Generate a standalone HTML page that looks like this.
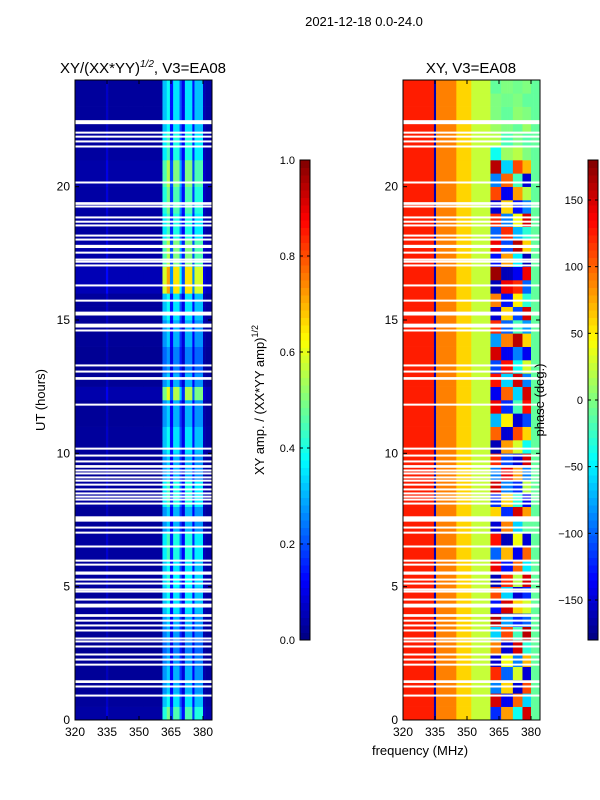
<!DOCTYPE html>
<html><head><meta charset="utf-8"><style>
body{margin:0;background:#fff;}
svg{display:block;font-family:"Liberation Sans",sans-serif;}
</style></head><body>
<svg id="s" width="600" height="800" xmlns="http://www.w3.org/2000/svg">
<text x="364" y="26" font-size="13" text-anchor="middle">2021-12-18 0.0-24.0</text>
<text x="143" y="73" font-size="15" text-anchor="middle">XY/(XX*YY)<tspan dy="-6" font-size="10" font-style="italic">1/2</tspan><tspan dy="6">, V3=EA08</tspan></text>
<text x="471" y="73" font-size="15" text-anchor="middle">XY, V3=EA08</text>
<g id="left"></g>
<g id="right"></g>
<g id="axes"></g>
<text transform="translate(45,400) rotate(-90)" font-size="13" text-anchor="middle">UT (hours)</text>
<text x="420" y="755" font-size="13" text-anchor="middle">frequency (MHz)</text>
<text transform="translate(264,400) rotate(-90)" font-size="13" text-anchor="middle">XY amp. / (XX*YY amp)<tspan dy="-6" font-size="9">1/2</tspan></text>
<text transform="translate(544,400) rotate(-90)" font-size="13" text-anchor="middle">phase (deg.)</text>
</svg>
<script>
const gapHours=[22.40,22.01,21.86,21.68,21.49,20.14,19.35,19.24,18.83,18.67,18.53,18.15,18.0,17.74,17.51,17.25,17.17,17.03,16.28,15.71,15.26,15.19,14.81,14.74,14.59,13.28,13.05,12.79,11.81,10.16,9.90,9.68,9.49,9.34,9.23,9.08,8.96,8.81,8.63,8.48,8.36,8.25,8.10,7.52,7.2,7.01,6.49,5.96,5.81,5.49,5.25,5.1,4.88,4.8,4.5,4.31,4.24,3.9,3.71,3.53,3.34,3.04,2.93,2.74,2.44,2.25,2.06,1.42,1.24,0.9];
const gapWidths=[0.15,0.07,0.07,0.07,0.07,0.07,0.1,0.07,0.07,0.07,0.07,0.07,0.07,0.12,0.07,0.07,0.07,0.07,0.07,0.07,0.07,0.07,0.07,0.07,0.07,0.07,0.07,0.1,0.07,0.07,0.07,0.07,0.1,0.07,0.07,0.07,0.07,0.07,0.07,0.07,0.07,0.07,0.07,0.2,0.07,0.07,0.07,0.07,0.07,0.12,0.07,0.07,0.07,0.07,0.07,0.07,0.07,0.1,0.07,0.07,0.07,0.07,0.07,0.07,0.07,0.07,0.07,0.1,0.07,0.07];
const freqEdges=[320,334.5,335.5,345,352,361,363,364.5,366,369,370,371.5,375,376,380,381,384.2];
const colAmp=[0.04,0.1,0.04,0.04,0.04,0.45,0.55,0.2,0.5,0.3,0.15,0.5,0.2,0.45,0.08,0.05];
const colPhase=[125,-160,90,60,25,null,null,null,null,null,null,null,null,null,-10,-10];
const colPhaseGroup=[0,0,0,0,0,1,1,1,2,2,2,3,3,4,0,0];
const rowAmp=[0.9,0.7,0.6,0.6,0.55,0.5,0.55,0.6,0.7,0.7,0.75,0.7,0.8,0.8,0.6,0.6,0.8,0.8,0.6,0.6,0.7,0.7,0.6,0.6,1.1,0.6,0.5,0.5,0.6,0.6,0.7,0.7,1.3,1.3,1.0,1.0,0.8,0.8,0.9,0.9,1.0,1.0,0.8,0.8,0.7,0.7,0.7,0.7];
const phaseA=[-120,150,-90,120,-150,90,-60,160,-130,110,-160,140,-100,130,-150,60,-120,150,-90,120,-160,100,-70,140,-140,130,-110,150,-80,120,-150,90,-160,170,-130,140,-100,120,-150,110,-90,160,-40,20,10,0,0,-10];
const phaseB=[80,-140,60,-100,40,-150,110,-80,150,-60,120,-130,70,-160,90,-120,60,-90,140,-110,80,-150,50,-120,100,-60,130,-140,90,-100,60,-130,140,-160,80,-110,120,-90,60,-140,100,-60,10,-20,0,-10,-5,0];
const phaseC=[-40,100,-150,30,-90,150,-20,-120,60,-150,20,100,-140,40,-60,150,-30,-120,80,-150,30,110,-150,-20,-60,150,-40,-90,160,-20,-110,50,120,-140,-50,160,-70,40,-130,80,-20,110,20,0,-10,5,0,-5];
const phaseD=[150,-60,110,-150,70,-30,160,-100,30,-120,150,-50,100,-150,-10,80,-140,20,-90,150,-40,60,-110,130,150,-90,30,-140,60,-80,150,-30,-100,140,-160,60,-30,150,-90,20,-150,70,0,-15,10,0,-10,0];
const phaseGroups=[null,phaseA,phaseB,phaseC,phaseD];
const ampTicks=[0.0,0.2,0.4,0.6,0.8,1.0];
const phaseTicks=[-150,-100,-50,0,50,100,150];
const hourTicks=[0,5,10,15,20];
const freqTicks=[320,335,350,365,380];

const NS="http://www.w3.org/2000/svg";
const svg=document.getElementById('s');
function jet(v){v=Math.max(0,Math.min(1,v));
 const r=Math.max(0,Math.min(1,1.5-Math.abs(4*v-3)));
 const g=Math.max(0,Math.min(1,1.5-Math.abs(4*v-2)));
 const b=Math.max(0,Math.min(1,1.5-Math.abs(4*v-1)));
 return `rgb(${Math.round(r*255)},${Math.round(g*255)},${Math.round(b*255)})`;}
function el(tag,attrs,parent){const e=document.createElementNS(NS,tag);for(const k in attrs)e.setAttribute(k,attrs[k]);(parent||svg).appendChild(e);return e;}
const panels=[{id:'left',x0:75,x1:212,kind:'amp'},{id:'right',x0:403,x1:540,kind:'phase'}];
const yT=80,yB=720;
function yOf(h){return yB-(yB-yT)*h/24;}
function xOf(p,f){return p.x0+(f-320)*(32/15);}
panels.forEach(p=>{
 const g=document.getElementById(p.id);
 for(let r=0;r<rowAmp.length;r++){
  const h0=r*0.5,h1=h0+0.5;
  for(let c=0;c<colAmp.length;c++){
   let v;
   if(p.kind==='amp'){v=colAmp[c]*rowAmp[r];}
   else{const ph=colPhase[c]!==null?colPhase[c]:phaseGroups[colPhaseGroup[c]][r];v=(ph+180)/360;}
   const x=xOf(p,freqEdges[c]),x2=Math.min(p.x1,xOf(p,freqEdges[c+1]));
   const cell=el('rect',{x:x,y:yOf(h1),width:x2-x+0.3,height:yOf(h0)-yOf(h1)+0.3,fill:jet(v)},g);
   
   
  }
 }
 gapHours.forEach((h,i)=>{
  const w=gapWidths[i];
  const gr=el('rect',{x:p.x0,y:yOf(h+w/2)-0.5,width:p.x1-p.x0,height:Math.max(2,yOf(h-w/2)-yOf(h+w/2)),fill:'#fff'},g);
  
  
 });
 const fr=el('rect',{x:p.x0,y:yT,width:p.x1-p.x0,height:yB-yT,fill:'none',stroke:'#000','stroke-width':1});
 
 
 hourTicks.forEach(h=>{
  const y=yOf(h);
  el('line',{x1:p.x0,x2:p.x0+4,y1:y,y2:y,stroke:'#000'});
  el('line',{x1:p.x1,x2:p.x1-4,y1:y,y2:y,stroke:'#000'});
  const t=el('text',{x:p.x0-5,y:y+4,'font-size':12,'text-anchor':'end'});t.textContent=h;
  
  
 });
 freqTicks.forEach(f=>{
  const x=xOf(p,f);
  el('line',{x1:x,x2:x,y1:yB,y2:yB-4,stroke:'#000'});
  el('line',{x1:x,x2:x,y1:yT,y2:yT+4,stroke:'#000'});
  const t=el('text',{x:x,y:yB+16,'font-size':12,'text-anchor':'middle'});t.textContent=f;
  
  
 });
});
function colorbar(x,name,ticks,vmin,vmax,labelFn){
 const top=160,bot=640,n=64;
 for(let i=0;i<n;i++){
  const r=el('rect',{x:x,y:bot-(i+1)*(bot-top)/n,width:10,height:(bot-top)/n+0.5,fill:jet((i+0.5)/n)});
  
  
 }
 const f=el('rect',{x:x,y:top,width:10,height:bot-top,fill:'none',stroke:'#000'});
 
 
 ticks.forEach(v=>{
  const y=bot-(v-vmin)/(vmax-vmin)*(bot-top);
  el('line',{x1:x,x2:x+3,y1:y,y2:y,stroke:'#000'});
  el('line',{x1:x+10,x2:x+7,y1:y,y2:y,stroke:'#000'});
  const t=el('text',{x:x-5,y:y+4,'font-size':11,'text-anchor':'end'});t.textContent=labelFn(v);
  
  
 });
}
colorbar(300,'amp-colorbar',ampTicks,0,1,v=>v.toFixed(1));
colorbar(588,'phase-colorbar',phaseTicks,-180,180,v=>v<0?'\u2212'+(-v):String(v));
</script>
</body></html>
